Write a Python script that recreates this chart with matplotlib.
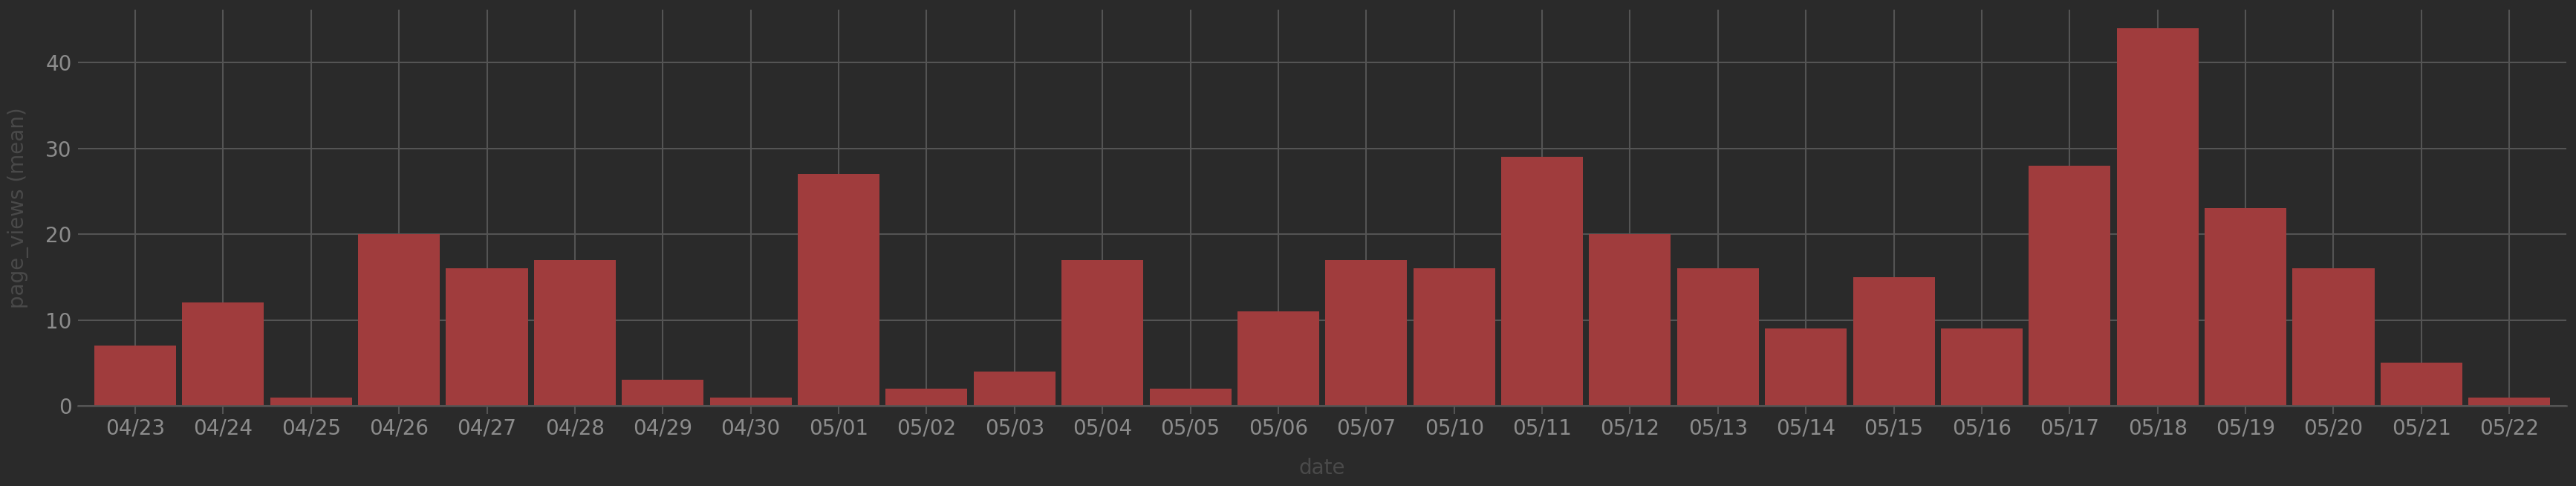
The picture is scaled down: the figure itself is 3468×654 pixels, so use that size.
import matplotlib
matplotlib.use("Agg")
import matplotlib.pyplot as plt

dates = ['04/23', '04/24', '04/25', '04/26', '04/27', '04/28', '04/29', '04/30',
         '05/01', '05/02', '05/03', '05/04', '05/05', '05/06', '05/07', '05/10',
         '05/11', '05/12', '05/13', '05/14', '05/15', '05/16', '05/17', '05/18',
         '05/19', '05/20', '05/21', '05/22']
page_views = [7, 12, 1, 20, 16, 17, 3, 1, 27, 2, 4, 17, 2, 11, 17, 16,
              29, 20, 16, 9, 15, 9, 28, 44, 23, 16, 5, 1]
yticks = [0, 10, 20, 30, 40]

bg = '#2a2a2a'
grid_col = '#545454'
bar_col = '#a03c3d'
tick_col = '#8c8c8c'
label_col = '#4a4a4a'

plt.rcParams['font.family'] = ['DejaVu Sans']

fig = plt.figure(figsize=(34.68, 6.54), dpi=100, facecolor=bg)
ax = fig.add_axes([0.0303, 0.165, 0.966, 0.815], facecolor=bg)

x = list(range(len(dates)))
ax.bar(x, page_views, width=0.93, color=bar_col, zorder=3)

ax.set_xlim(-0.65, len(dates) - 0.35)
ax.set_ylim(0, 46.15)
ax.set_xticks(x)
ax.set_xticklabels(dates)
ax.set_yticks(yticks)

ax.grid(True, color=grid_col, linewidth=1.5, zorder=0)
for s in ['top', 'right', 'left']:
    ax.spines[s].set_visible(False)
ax.spines['bottom'].set_color(grid_col)
ax.spines['bottom'].set_linewidth(1.8)
ax.spines['bottom'].set_zorder(4)

ax.tick_params(axis='x', colors=tick_col, labelsize=20, length=8, width=1.5,
               color=grid_col, pad=4)
ax.tick_params(axis='y', colors=tick_col, labelsize=20, length=0, pad=6)

ax.set_xlabel('date', color=label_col, fontsize=20, labelpad=18)
ax.set_ylabel('page_views (mean)', color=label_col, fontsize=20, labelpad=16)

fig.savefig('out.png', dpi=100, facecolor=bg)
